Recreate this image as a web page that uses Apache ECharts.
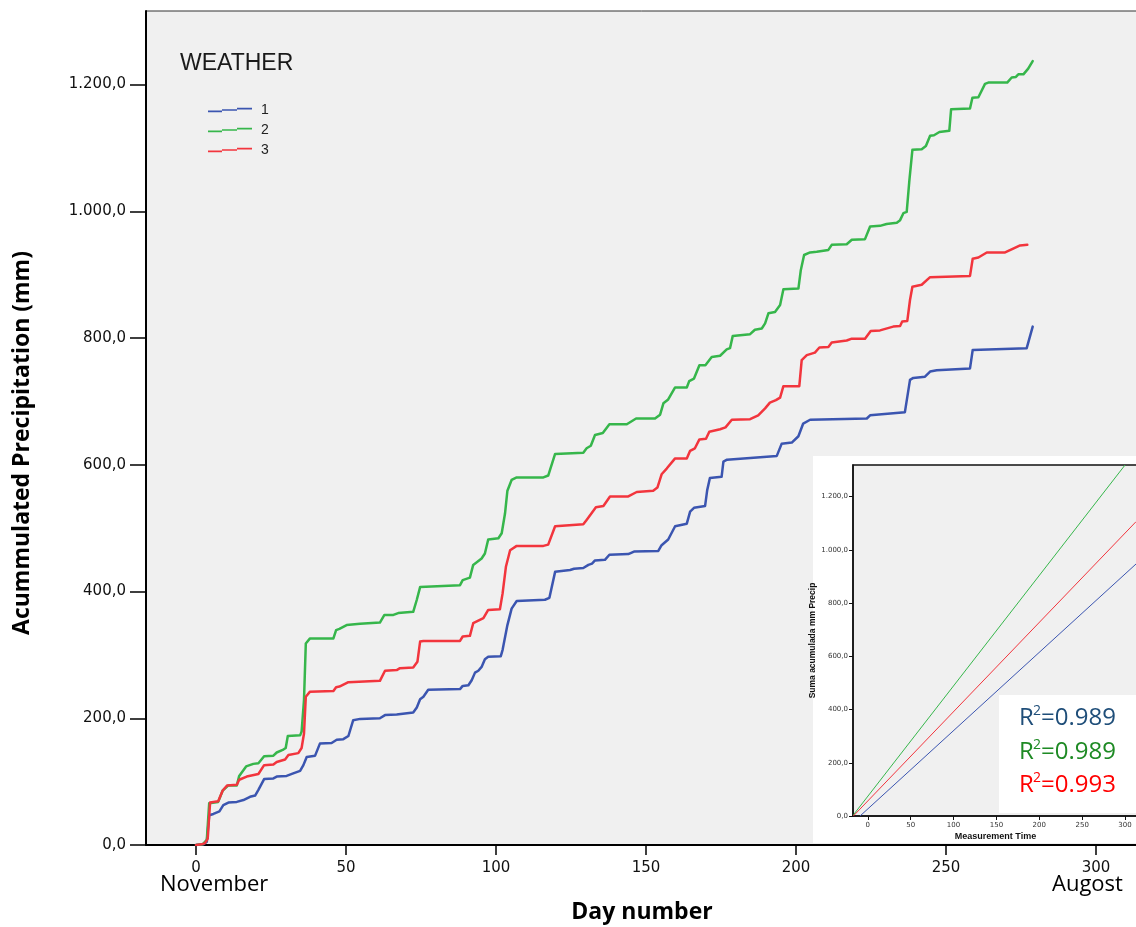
<!DOCTYPE html>
<html><head><meta charset="utf-8">
<script src="https://cdn.jsdelivr.net/npm/echarts@6/dist/echarts.min.js"></script>
<style>html,body{margin:0;padding:0;background:#fff}#c{width:1136px;height:927px}</style>
</head><body><div id="c"></div>
<script>
// Day number vs accumulated precipitation (mm)
const weather1 = [[0,0],[2.4,1],[3.6,5],[4.4,47],[5.8,49],[7.8,53],[9.1,63],[10.8,67],[13.6,68],[15.8,71],[18,76],[19.7,78],[20.8,87],[22.7,104],[25.8,105],[26.9,108],[30.2,109],[32.4,113],[34.7,117],[35.8,126],[36.9,139],[39.7,141],[41.3,160],[45.2,161],[46.9,166],[49.1,167],[50.8,172],[52.4,197],[54.7,199],[61.3,200],[63,205],[66.9,206],[72.4,209],[73.6,217],[74.7,230],[75.8,234],[77.4,245],[88,246],[88.9,251],[90.8,252],[91.9,260],[93,272],[94.1,275],[95.2,281],[96.3,293],[97.4,297],[101.6,298],[102.2,308],[103.8,347],[105.2,373],[106.9,385],[116.3,387],[117.8,390],[119.7,431],[124.7,434],[126,436],[129.1,437],[130.8,442],[132,444],[133,449],[136.3,450],[137.8,458],[144.1,459],[146,463],[154.1,464],[155.2,473],[157.4,482],[159.7,503],[163.6,507],[164.7,526],[166,532],[169.7,535],[170.4,560],[171.3,579],[175.2,581],[175.8,605],[177,608],[193.6,614],[195.2,633],[198.6,635],[200.8,645],[202.4,665],[204.7,671],[223.6,673],[224.7,678],[236.3,683],[238,734],[239.1,737],[243,739],[244.7,747],[246.9,749],[258,752],[258.9,781],[276.9,784],[278.9,818]];
const weather2 = [[0,0],[2.2,1],[3.6,8],[4.4,66],[7.4,68],[8.9,86],[10.8,94],[13.6,94],[14.4,109],[16.7,124],[19.1,128],[20.8,129],[22.7,140],[25.8,141],[26.9,146],[28.9,150],[29.9,153],[30.6,172],[34.7,173],[35.2,179],[36,229],[36.6,318],[38,326],[45.8,326],[46.7,339],[47.8,341],[50.2,347],[54.7,349],[61.3,351],[62.8,363],[65.8,363],[67.4,366],[72.4,368],[73.6,387],[74.7,407],[88,410],[88.9,418],[91.3,422],[92.4,442],[95.2,452],[96.3,460],[97.4,482],[100.8,484],[101.9,492],[103,523],[103.8,559],[105.2,576],[106.9,580],[115.8,580],[117.4,583],[119.7,617],[129.1,619],[130.2,626],[131.6,630],[133,647],[135.6,650],[137.8,664],[143.6,664],[146.7,673],[153,673],[154.7,679],[155.8,697],[157.4,703],[159.7,722],[163.6,722],[164.4,732],[166,736],[167.8,757],[169.8,757],[171.9,770],[174.7,772],[176.9,782],[178,784],[178.9,803],[184.7,806],[186.3,813],[188.6,815],[189.7,823],[190.8,839],[193,841],[194.7,852],[195.8,877],[200.8,878],[201.6,907],[202.7,931],[204.7,935],[206.9,936],[210.8,939],[211.9,947],[216.9,948],[218.6,955],[223,956],[224.7,976],[228,977],[230.2,980],[233.6,982],[234.7,986],[235.8,997],[236.9,999],[237.8,1049],[238.8,1097],[241.9,1098],[243.3,1103],[244.7,1119],[246,1120],[247.8,1125],[251.1,1127],[251.7,1161],[258,1162],[258.8,1179],[260.8,1180],[263,1201],[264.1,1203],[270.4,1203],[271.9,1211],[273.3,1212],[274.1,1216],[275.8,1216],[277.4,1225],[278.9,1237]];
const weather3 = [[0,0],[1.9,1],[3,3],[3.9,10],[4.7,67],[7.4,69],[8.9,86],[10.4,94],[13.6,95],[14.4,103],[16.9,108],[20.8,112],[22.7,126],[25.8,127],[26.9,131],[29.7,135],[30.8,142],[34.1,145],[35.2,153],[36,176],[36.6,234],[38,242],[45.8,243],[46.7,249],[47.8,250],[50.8,257],[61.3,259],[63,275],[66.9,276],[68,279],[72.4,280],[73.8,289],[74.7,321],[75.8,322],[88,322],[88.9,329],[91.3,330],[92.4,350],[95.8,358],[97.4,371],[101.3,372],[102.2,397],[103.3,439],[104.7,465],[106.9,472],[115.8,472],[117.4,474],[119.7,503],[129.1,506],[130.2,513],[131.3,520],[133.3,533],[135.8,535],[138,550],[144.1,550],[146.9,557],[152.4,559],[153.8,564],[155.2,585],[156.9,594],[159.7,610],[163.6,610],[164.7,622],[166.3,626],[167.8,640],[170,641],[171.1,652],[174.7,656],[176.5,659],[178.6,671],[184.7,672],[187.4,678],[189.7,689],[191.3,698],[193.3,702],[194.7,706],[195.8,724],[201.1,724],[201.9,765],[203.6,773],[206.3,777],[207.8,785],[210.8,786],[211.9,793],[216.9,796],[218.6,799],[223,799],[224.9,811],[228,812],[232.4,818],[234.7,819],[235.4,826],[237.1,827],[238,860],[238.8,881],[241.9,884],[244.7,896],[258,898],[258.9,925],[260.8,927],[263.6,935],[269.7,935],[272.4,941],[274.7,946],[277.1,947]];
// inset: fitted lines (endpoints)
const fit1 = [[-9,0],[312.8,947]];
const fit2 = [[-16.8,4],[300,1319]];
const fit3 = [[-16.8,0],[312.8,1106]];
const seriesNames = ['1','2','3'];
const r2Values = ['0.989','0.989','0.993'];
const monthLabels = ['November','Augost'];
const xTicks = [0,50,100,150,200,250,300];
const yTicks = [0,200,400,600,800,1000,1200];

const colors = ['#3b55b0','#36b64b','#f2353d'];
const r2Colors = ['#1f4e79','#1e8a24','#ff0000'];

function fmtY(v){
  const p = Number(v).toFixed(1).split('.');
  return p[0].replace(/\B(?=(\d{3})+(?!\d))/g,'.') + ',' + p[1];
}
function fmtX(v){ return String(Math.round(v)); }
const stepIcon = 'path://M0,4.2h14v1.6h-14z M14,2.8h15v1.6h-15z M29,1.4h15v1.6h-15z';

const chart = echarts.init(document.getElementById('c'), null, {renderer:'canvas'});

const r2Graphics = [];
const r2Y = [721, 755, 788];
r2Values.forEach((v,i)=>{
  r2Graphics.push({type:'text', z:20, left:1019, top:r2Y[i]-15, style:{text:'R', fill:r2Colors[i], font:'24px "Open Sans"'}});
  r2Graphics.push({type:'text', z:20, left:1033, top:r2Y[i]-17, style:{text:'2', fill:r2Colors[i], font:'14px "Open Sans"'}});
  r2Graphics.push({type:'text', z:20, left:1041, top:r2Y[i]-15, style:{text:'=' + v, fill:r2Colors[i], font:'24px "Open Sans"'}});
});

chart.setOption({
  animation:false,
  backgroundColor:'#ffffff',
  grid:[
    {left:146, top:11, right:-2, bottom:82, show:true, backgroundColor:'#f0f0f0', borderColor:'#333', borderWidth:1, z:0, outerBoundsMode:'none', containLabel:false},
    {left:853, top:465, right:-2, bottom:111, show:true, backgroundColor:'#f0f0f0', borderColor:'#111', borderWidth:1.5, z:2, outerBoundsMode:'none', containLabel:false}
  ],
  legend:{
    data:seriesNames, orient:'vertical', left:203, top:98, itemWidth:44, itemHeight:5,
    itemGap:6, icon:stepIcon,
    textStyle:{fontSize:14, lineHeight:14, color:'#222', fontFamily:'Liberation Sans', padding:[0,0,0,4]}
  },
  xAxis:[
    {gridIndex:0, type:'value', min:-16.67, max:314, splitNumber:6,
     name:'Day number', nameLocation:'middle', nameGap:56,
     nameTextStyle:{fontFamily:'Open Sans', fontWeight:'bold', fontSize:23, color:'#000'},
     axisLine:{show:true, onZero:false, lineStyle:{color:'#000', width:2}},
     axisTick:{show:true, length:10, customValues:xTicks, lineStyle:{color:'#000', width:1.5}},
     axisLabel:{formatter:fmtX, customValues:xTicks, margin:16, fontFamily:'DejaVu Sans', fontSize:15, color:'#111'},
     splitLine:{show:false}},
    {gridIndex:1, type:'value', min:-17.2, max:315.1, splitNumber:6, z:3,
     name:'Measurement Time', nameLocation:'middle', nameGap:16,
     nameTextStyle:{fontFamily:'Liberation Sans', fontWeight:'bold', fontSize:9, color:'#111'},
     axisLine:{show:true, onZero:false, lineStyle:{color:'#111', width:1.5}},
     axisTick:{show:true, length:4, customValues:xTicks, lineStyle:{color:'#111', width:1}},
     axisLabel:{formatter:fmtX, customValues:xTicks, margin:6, fontFamily:'DejaVu Sans', fontSize:7, color:'#333'},
     splitLine:{show:false}}
  ],
  yAxis:[
    {gridIndex:0, type:'value', min:0, max:1316,
     axisLine:{show:true, onZero:false, lineStyle:{color:'#000', width:2}},
     axisTick:{show:true, length:16, customValues:yTicks, lineStyle:{color:'#000', width:1.5}},
     axisLabel:{formatter:fmtY, customValues:yTicks, margin:20, fontFamily:'DejaVu Sans', fontSize:15, color:'#111'},
     splitLine:{show:false}},
    {gridIndex:1, type:'value', min:0, max:1319, z:3,
     name:'Suma acumulada mm Precip', nameLocation:'middle', nameGap:24, nameRotate:90,
     nameTextStyle:{fontFamily:'Liberation Sans', fontWeight:'bold', fontSize:8.5, color:'#111'},
     axisLine:{show:true, onZero:false, lineStyle:{color:'#111', width:1.5}},
     axisTick:{show:true, length:4, customValues:yTicks, lineStyle:{color:'#111', width:1}},
     axisLabel:{formatter:fmtY, customValues:yTicks, margin:5, fontFamily:'DejaVu Sans', fontSize:7, color:'#333'},
     splitLine:{show:false}}
  ],
  graphic:[
    {type:'rect', z:1, shape:{x:813, y:456, width:330, height:387}, style:{fill:'#ffffff'}},
    {type:'rect', z:19, shape:{x:999, y:695, width:140, height:118}, style:{fill:'#ffffff'}},
    {type:'text', z:5, left:180, top:52, style:{text:'WEATHER', fill:'#1a1a1a', font:'23px "Liberation Sans"'}},
    {type:'text', z:5, left:160, top:874, style:{text:monthLabels[0], fill:'#000', font:'22px "Open Sans"'}},
    {type:'text', z:5, left:1052, top:874, style:{text:monthLabels[1], fill:'#000', font:'22px "Open Sans"'}},
    {type:'text', z:5, x:22, y:443, rotation:Math.PI/2,
     style:{text:'Acummulated Precipitation (mm)', fill:'#000', font:'bold 23px "Open Sans"', align:'center', verticalAlign:'middle'}}
  ].concat(r2Graphics),
  series:[
    {name:seriesNames[0], type:'line', xAxisIndex:0, yAxisIndex:0, data:weather1, showSymbol:false, z:3,
     itemStyle:{color:colors[0]}, lineStyle:{color:colors[0], width:2.5, join:'round', cap:'round'}},
    {name:seriesNames[1], type:'line', xAxisIndex:0, yAxisIndex:0, data:weather2, showSymbol:false, z:3,
     itemStyle:{color:colors[1]}, lineStyle:{color:colors[1], width:2.5, join:'round', cap:'round'}},
    {name:seriesNames[2], type:'line', xAxisIndex:0, yAxisIndex:0, data:weather3, showSymbol:false, z:3,
     itemStyle:{color:colors[2]}, lineStyle:{color:colors[2], width:2.5, join:'round', cap:'round'}},
    {name:'fit1', type:'line', xAxisIndex:1, yAxisIndex:1, data:fit1, showSymbol:false, z:4, clip:true,
     lineStyle:{color:colors[0], width:1}},
    {name:'fit2', type:'line', xAxisIndex:1, yAxisIndex:1, data:fit2, showSymbol:false, z:4, clip:true,
     lineStyle:{color:colors[1], width:1}},
    {name:'fit3', type:'line', xAxisIndex:1, yAxisIndex:1, data:fit3, showSymbol:false, z:4, clip:true,
     lineStyle:{color:colors[2], width:1}}
  ]
});
</script></body></html>
